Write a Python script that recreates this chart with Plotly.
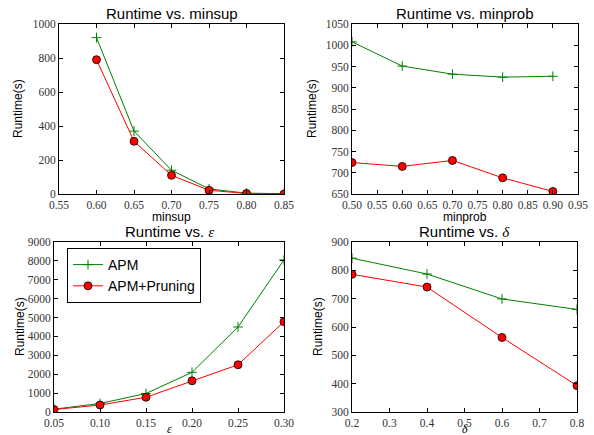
import plotly.graph_objects as go

# ---- data ----
minsup_x = [0.60, 0.65, 0.70, 0.75, 0.80, 0.85]
minsup_apm = [920, 370, 140, 30, 5, 2]
minsup_prune = [790, 310, 110, 22, 3, 0]

minprob_x = [0.5, 0.6, 0.7, 0.8, 0.9]
minprob_apm = [1008, 951, 932, 925, 927]
minprob_prune = [724, 715, 729, 688, 656]

eps_x = [0.05, 0.10, 0.15, 0.20, 0.25, 0.30]
eps_apm = [150, 450, 980, 2100, 4500, 8050]
eps_prune = [130, 370, 780, 1650, 2500, 4780]

delta_x = [0.2, 0.4, 0.6, 0.8]
delta_apm = [843, 787, 699, 662]
delta_prune = [786, 741, 563, 393]

W, H = 594, 435
GREEN = "#008000"
RED = "#ff0000"
SANS = "Liberation Sans"
SERIF = "Liberation Serif"

def px_x(a, b):
    return [a / W, b / W]

def px_y(top, bottom):
    return [1 - bottom / H, 1 - top / H]

EPS = "<i>ε</i>"
DEL = "<i>δ</i>"

panels = [
    dict(x=minsup_x, a=minsup_apm, p=minsup_prune, xd=px_x(59, 284), yd=px_y(24, 194),
         xr=[0.55, 0.85], xdt=0.05, xf=".2f", yr=[0, 1000], ydt=200,
         title="Runtime vs. minsup", xt="minsup", xtfont=SANS, xty=217, ytx=18),
    dict(x=minprob_x, a=minprob_apm, p=minprob_prune, xd=px_x(352, 578), yd=px_y(24, 194),
         xr=[0.5, 0.95], xdt=0.05, xf=".2f", yr=[650, 1050], ydt=50,
         title="Runtime vs. minprob", xt="minprob", xtfont=SANS, xty=217, ytx=312),
    dict(x=eps_x, a=eps_apm, p=eps_prune, xd=px_x(54, 284), yd=px_y(242, 412),
         xr=[0.05, 0.30], xdt=0.05, xf=".2f", yr=[0, 9000], ydt=1000,
         title="Runtime vs. <span style='font-family:Liberation Serif'>" + EPS + "</span>",
         xt=EPS, xtfont=SERIF, xty=428.5, ytx=20),
    dict(x=delta_x, a=delta_apm, p=delta_prune, xd=px_x(352, 577), yd=px_y(242, 412),
         xr=[0.2, 0.8], xdt=0.1, xf=".1f", yr=[300, 900], ydt=100,
         title="Runtime vs. <span style='font-family:Liberation Serif'>" + DEL + "</span>",
         xt=DEL, xtfont=SERIF, xty=428.5, ytx=318),
]

fig = go.Figure()
layout = dict(width=W, height=H, margin=dict(l=0, r=0, t=0, b=0, autoexpand=False),
              paper_bgcolor="white", plot_bgcolor="white", annotations=[])

for i, pn in enumerate(panels):
    n = "" if i == 0 else str(i + 1)
    xa, ya = "x" + n, "y" + n
    fig.add_trace(go.Scatter(
        x=pn["x"], y=pn["a"], xaxis=xa, yaxis=ya, mode="lines+markers", name="APM",
        line=dict(color=GREEN, width=1),
        marker=dict(symbol="cross-thin", size=7, line=dict(color=GREEN, width=1)),
        showlegend=(i == 2)))
    fig.add_trace(go.Scatter(
        x=pn["x"], y=pn["p"], xaxis=xa, yaxis=ya, mode="lines+markers", name="APM+Pruning",
        line=dict(color=RED, width=1),
        marker=dict(symbol="circle", size=8, color=RED, line=dict(color="black", width=0.8)),
        showlegend=(i == 2)))
    common = dict(showline=True, linecolor="black", linewidth=1, mirror="ticks",
                  ticks="inside", ticklen=4, tickcolor="black", showgrid=False,
                  zeroline=False, automargin=False,
                  tickfont=dict(family=SERIF, size=11.5, color="#333"))
    layout["xaxis" + n] = dict(common, domain=pn["xd"], range=pn["xr"], dtick=pn["xdt"],
                               tick0=pn["xr"][0], tickformat=pn["xf"], anchor=ya)
    layout["yaxis" + n] = dict(common, domain=pn["yd"], range=pn["yr"], dtick=pn["ydt"],
                               tick0=pn["yr"][0], anchor=xa)
    xc = (pn["xd"][0] + pn["xd"][1]) / 2
    yc = (pn["yd"][0] + pn["yd"][1]) / 2
    layout["annotations"].append(dict(
        text=pn["title"], xref="paper", yref="paper", x=xc, y=pn["yd"][1],
        yanchor="bottom", xanchor="center", showarrow=False, yshift=0,
        font=dict(family=SANS, size=15, color="black")))
    layout["annotations"].append(dict(
        text=pn["xt"], xref="paper", yref="paper", x=xc, y=1 - pn["xty"] / H,
        yanchor="middle", xanchor="center", showarrow=False,
        font=dict(family=pn["xtfont"], size=12, color="black")))
    layout["annotations"].append(dict(
        text="Runtime(s)", xref="paper", yref="paper", x=pn["ytx"] / W, y=yc,
        yanchor="middle", xanchor="center", showarrow=False, textangle=-90,
        font=dict(family=SANS, size=12, color="black")))

layout["legend"] = dict(x=67 / W, y=1 - 248 / H, xanchor="left", yanchor="top",
                        bordercolor="black", borderwidth=1, bgcolor="white",
                        font=dict(family=SANS, size=14, color="black"),
                        itemwidth=30, tracegroupgap=0)
fig.update_layout(**layout)
fig.write_html("out.html", config={"displayModeBar": False},
               post_script="document.body.style.margin='0';document.body.style.padding='0';")
